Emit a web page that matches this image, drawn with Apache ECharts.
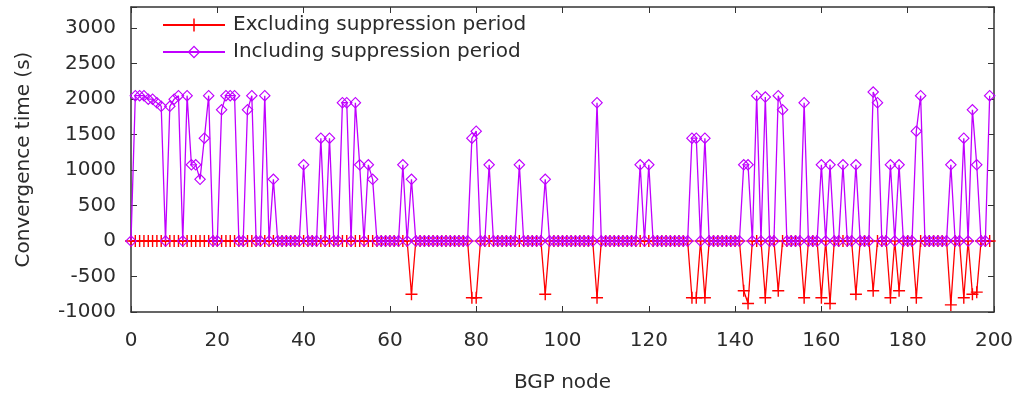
<!DOCTYPE html>
<html>
<head>
<meta charset="utf-8">
<script src="https://cdn.jsdelivr.net/npm/echarts@6/dist/echarts.min.js"></script>
<style>
  html, body { margin: 0; padding: 0; background: #fff; }
  #main { width: 1021px; height: 395px; }
</style>
</head>
<body>
<div id="main"></div>
<script>
// convergence time per BGP node (s), node index = position in the array
var including = [
  0, 2050, 2050, 2050, 2000, 2000, 1950, 1900, 0, 1900, 2000, 2050, 0, 2050, 1075, 1075, 870, 1450, 2050, 0,
  0, 1850, 2050, 2050, 2050, 0, 0, 1850, 2050, 0, 0, 2050, 0, 870, 0, 0, 0, 0, 0, 0,
  1075, 0, 0, 0, 1450, 0, 1450, 0, 0, 1950, 1950, 0, 1950, 1075, 0, 1075, 870, 0, 0, 0,
  0, 0, 0, 1075, 0, 870, 0, 0, 0, 0, 0, 0, 0, 0, 0, 0, 0, 0, 0, 1450,
  1550, 0, 0, 1075, 0, 0, 0, 0, 0, 0, 1075, 0, 0, 0, 0, 0, 870, 0, 0, 0,
  0, 0, 0, 0, 0, 0, 0, 0, 1950, 0, 0, 0, 0, 0, 0, 0, 0, 0, 1075, 0,
  1075, 0, 0, 0, 0, 0, 0, 0, 0, 0, 1450, 1450, 0, 1450, 0, 0, 0, 0, 0, 0,
  0, 0, 1075, 1075, 0, 2050, 0, 2030, 0, 0, 2050, 1850, 0, 0, 0, 0, 1950, 0, 0, 0,
  1075, 0, 1075, 0, 0, 1075, 0, 0, 1075, 0, 0, 0, 2100, 1950, 0, 0, 1075, 0, 1075, 0,
  0, 0, 1550, 2050, 0, 0, 0, 0, 0, 0, 1075, 0, 0, 1450, 0, 1850, 1075, 0, 0, 2050
];
var excluding = [
  0, 0, 0, 0, 0, 0, 0, 0, 0, 0, 0, 0, 0, 0, 0, 0, 0, 0, 0, 0,
  0, 0, 0, 0, 0, 0, 0, 0, 0, 0, 0, 0, 0, 0, 0, 0, 0, 0, 0, 0,
  0, 0, 0, 0, 0, 0, 0, 0, 0, 0, 0, 0, 0, 0, 0, 0, 0, 0, 0, 0,
  0, 0, 0, 0, 0, -750, 0, 0, 0, 0, 0, 0, 0, 0, 0, 0, 0, 0, 0, -800,
  -800, 0, 0, 0, 0, 0, 0, 0, 0, 0, 0, 0, 0, 0, 0, 0, -750, 0, 0, 0,
  0, 0, 0, 0, 0, 0, 0, 0, -800, 0, 0, 0, 0, 0, 0, 0, 0, 0, 0, 0,
  0, 0, 0, 0, 0, 0, 0, 0, 0, 0, -800, -800, 0, -800, 0, 0, 0, 0, 0, 0,
  0, 0, -700, -880, 0, 0, 0, -800, 0, 0, -700, 0, 0, 0, 0, 0, -800, 0, 0, 0,
  -800, 0, -880, 0, 0, 0, 0, 0, -750, 0, 0, 0, -700, 0, 0, 0, -800, 0, -700, 0,
  0, 0, -800, 0, 0, 0, 0, 0, 0, 0, -900, 0, 0, -800, 0, -750, -720, 0, 0, 0
];
var seriesNames = ['Excluding suppression period', 'Including suppression period'];
var xTicks = [0, 200, 20];      // min, max, step
var yTicks = [-1000, 3300, 500];

var FONT = 'DejaVu Sans';
var TXT = '#2b2b2b';
var plusPath = 'path://M10.6,0H13.4V10.6H24V13.4H13.4V24H10.6V13.4H0V10.6H10.6Z';
var diamondPath = 'path://M12,0L24,12L12,24L0,12Z M12,3.2L3.2,12L12,20.8L20.8,12Z';

var toPairs = function (arr) {
  var res = [];
  arr.forEach(function (v, i) { res.push([i, v]); });
  return res;
};

var axisBase = function (show) {
  return {
    axisLine: { show: true, onZero: false, lineStyle: { color: '#333', width: 1.5 } },
    axisTick: { show: true, inside: true, length: 6, lineStyle: { color: '#333', width: 1 } },
    splitLine: { show: false },
    axisLabel: { show: show }
  };
};

var xb = axisBase(true);
xb.type = 'value'; xb.position = 'bottom';
xb.min = xTicks[0]; xb.max = xTicks[1]; xb.interval = xTicks[2];
xb.axisLabel = { color: TXT, fontFamily: FONT, fontSize: 20, margin: 19 };
xb.name = 'BGP node'; xb.nameLocation = 'middle'; xb.nameGap = 61;
xb.nameTextStyle = { color: TXT, fontFamily: FONT, fontSize: 20 };

var xt = axisBase(false);
xt.type = 'value'; xt.position = 'top';
xt.min = xTicks[0]; xt.max = xTicks[1]; xt.interval = xTicks[2];

var yl = axisBase(true);
yl.type = 'value'; yl.position = 'left';
yl.min = yTicks[0]; yl.max = yTicks[1]; yl.interval = yTicks[2];
yl.axisLabel = {
  color: TXT, fontFamily: FONT, fontSize: 20, margin: 15,
  formatter: function (v) { return v > 3000 ? '' : String(v); }
};
yl.name = 'Convergence time (s)'; yl.nameLocation = 'middle'; yl.nameGap = 97;
yl.nameTextStyle = { color: TXT, fontFamily: FONT, fontSize: 20 };

var yr = axisBase(false);
yr.type = 'value'; yr.position = 'right';
yr.min = yTicks[0]; yr.max = yTicks[1]; yr.interval = yTicks[2];

var chart = echarts.init(document.getElementById('main'), null, { renderer: 'canvas' });
chart.setOption({
  animation: false,
  backgroundColor: '#fff',
  grid: { left: 131, right: 27, top: 7, bottom: 83, outerBoundsMode: 'none' },
  legend: {
    orient: 'vertical',
    left: 157, top: 10,
    itemWidth: 62, itemHeight: 16, itemGap: 7,
    textStyle: { color: TXT, fontFamily: FONT, fontSize: 20, padding: [0, 0, 0, 3] },
    data: seriesNames
  },
  xAxis: [xb, xt],
  yAxis: [yl, yr],
  series: [
    {
      name: seriesNames[0], type: 'line',
      xAxisIndex: 0, yAxisIndex: 0,
      data: toPairs(excluding),
      symbol: plusPath, symbolSize: 12,
      color: '#ff0000',
      itemStyle: { color: '#ff0000' },
      lineStyle: { color: '#ff0000', width: 1.3 },
      z: 2
    },
    {
      name: seriesNames[1], type: 'line',
      xAxisIndex: 0, yAxisIndex: 0,
      data: toPairs(including),
      symbol: diamondPath, symbolSize: 12,
      color: '#c000ff',
      itemStyle: { color: '#c000ff' },
      lineStyle: { color: '#c000ff', width: 1.3 },
      z: 3
    }
  ]
});
</script>
</body>
</html>
